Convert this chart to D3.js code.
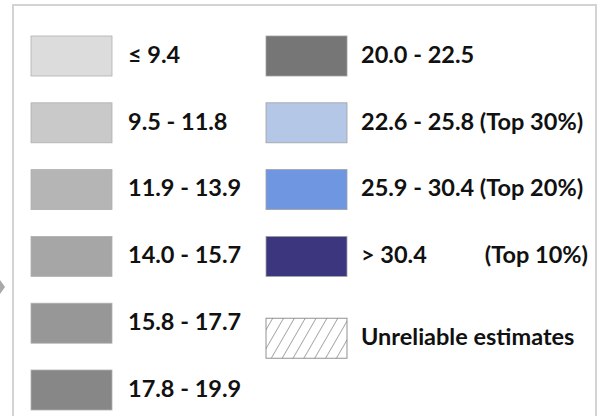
<!DOCTYPE html>
<html>
<head>
<meta charset="utf-8">
<script src="https://cdn.jsdelivr.net/npm/d3@7"></script>
<style>
  body { margin: 0; background: #fff; }
  svg text { font-family: Lato, "Open Sans", sans-serif; font-weight: bold; fill: #111; }
</style>
</head>
<body>
<div id="legend"></div>
<script>
// Legend classes (rate ranges) and their fill colours
var leftLabels = ["\u2264 9.4", "9.5 - 11.8", "11.9 - 13.9", "14.0 - 15.7", "15.8 - 17.7", "17.8 - 19.9"];
var leftColors = ["#dcdcdc", "#c9c9c9", "#b5b5b5", "#a6a6a6", "#979797", "#878787"];
var rightLabels = ["20.0 - 22.5", "22.6 - 25.8 (Top 30%)", "25.9 - 30.4 (Top 20%)", "> 30.4"];
var rightColors = ["#767676", "#b4c7e7", "#6f97e1", "#3b367d"];
var topTag = "(Top 10%)";
var hatchLabel = "Unreliable estimates";

var width = 599, height = 416;
var fontSize = "23.5px";

var svg = d3.select("#legend").append("svg")
    .attr("width", width)
    .attr("height", height);

// hatch pattern for unreliable estimates
var defs = svg.append("defs");
var pat = defs.append("pattern")
    .attr("id", "hatch")
    .attr("patternUnits", "userSpaceOnUse")
    .attr("width", 9.4)
    .attr("height", 9.4)
    .attr("patternTransform", "rotate(30)");
pat.append("line")
    .attr("x1", 0).attr("y1", 0)
    .attr("x2", 0).attr("y2", 9.4)
    .attr("stroke", "#444")
    .attr("stroke-width", 0.9);

// outer frame
svg.append("rect")
    .attr("x", 13)
    .attr("y", 5)
    .attr("width", 583)
    .attr("height", 430)
    .attr("fill", "none")
    .attr("stroke", "#d3d3d3")
    .attr("stroke-width", 2);

// little grey marker at the left edge
svg.append("path")
    .attr("d", "M0,280 L5,287 L0,294 Z")
    .attr("fill", "#a8a8a8");

// row positions
var rowScale = d3.scaleLinear().domain([0, 5]).range([36, 370]);
var boxW = 81, boxH = 40;

var left = svg.append("g");
var lrow = left.selectAll("g.row")
    .data(leftLabels)
  .enter().append("g")
    .attr("class", "row")
    .attr("transform", function(d, i) { return "translate(31," + rowScale(i) + ")"; });

lrow.append("rect")
    .attr("width", boxW)
    .attr("height", boxH)
    .attr("fill", function(d, i) { return leftColors[i]; })
    .attr("stroke", "#b0b0b0")
    .attr("stroke-width", 0.8);

lrow.append("text")
    .attr("x", 97)
    .attr("y", boxH / 2)
    .attr("dy", "0.29em")
    .style("font-size", fontSize)
    .text(function(d) { return d; });

var right = svg.append("g");
var rrow = right.selectAll("g.row")
    .data(rightLabels)
  .enter().append("g")
    .attr("class", "row")
    .attr("transform", function(d, i) { return "translate(266," + rowScale(i) + ")"; });

rrow.append("rect")
    .attr("width", boxW)
    .attr("height", boxH)
    .attr("fill", function(d, i) { return rightColors[i]; })
    .attr("stroke", "#a0a0a0")
    .attr("stroke-width", 0.8);

rrow.append("text")
    .attr("x", 95)
    .attr("y", boxH / 2)
    .attr("dy", "0.29em")
    .style("font-size", fontSize)
    .text(function(d) { return d; });

// right aligned "(Top 10%)" tag on the last coloured row
svg.append("text")
    .attr("x", 588)
    .attr("y", rowScale(3) + boxH / 2)
    .attr("dy", "0.29em")
    .attr("text-anchor", "end")
    .style("font-size", fontSize)
    .text(topTag);

// unreliable estimates row sits a bit lower than row 5
var hy = rowScale(4) + 15;
svg.append("rect")
    .attr("x", 266)
    .attr("y", hy)
    .attr("width", boxW)
    .attr("height", boxH)
    .attr("fill", "url(#hatch)")
    .attr("stroke", "#777")
    .attr("stroke-width", 0.8);

svg.append("text")
    .attr("x", 361)
    .attr("y", hy + boxH / 2)
    .attr("dy", "0.29em")
    .style("font-size", fontSize)
    .text(hatchLabel);
</script>
</body>
</html>
